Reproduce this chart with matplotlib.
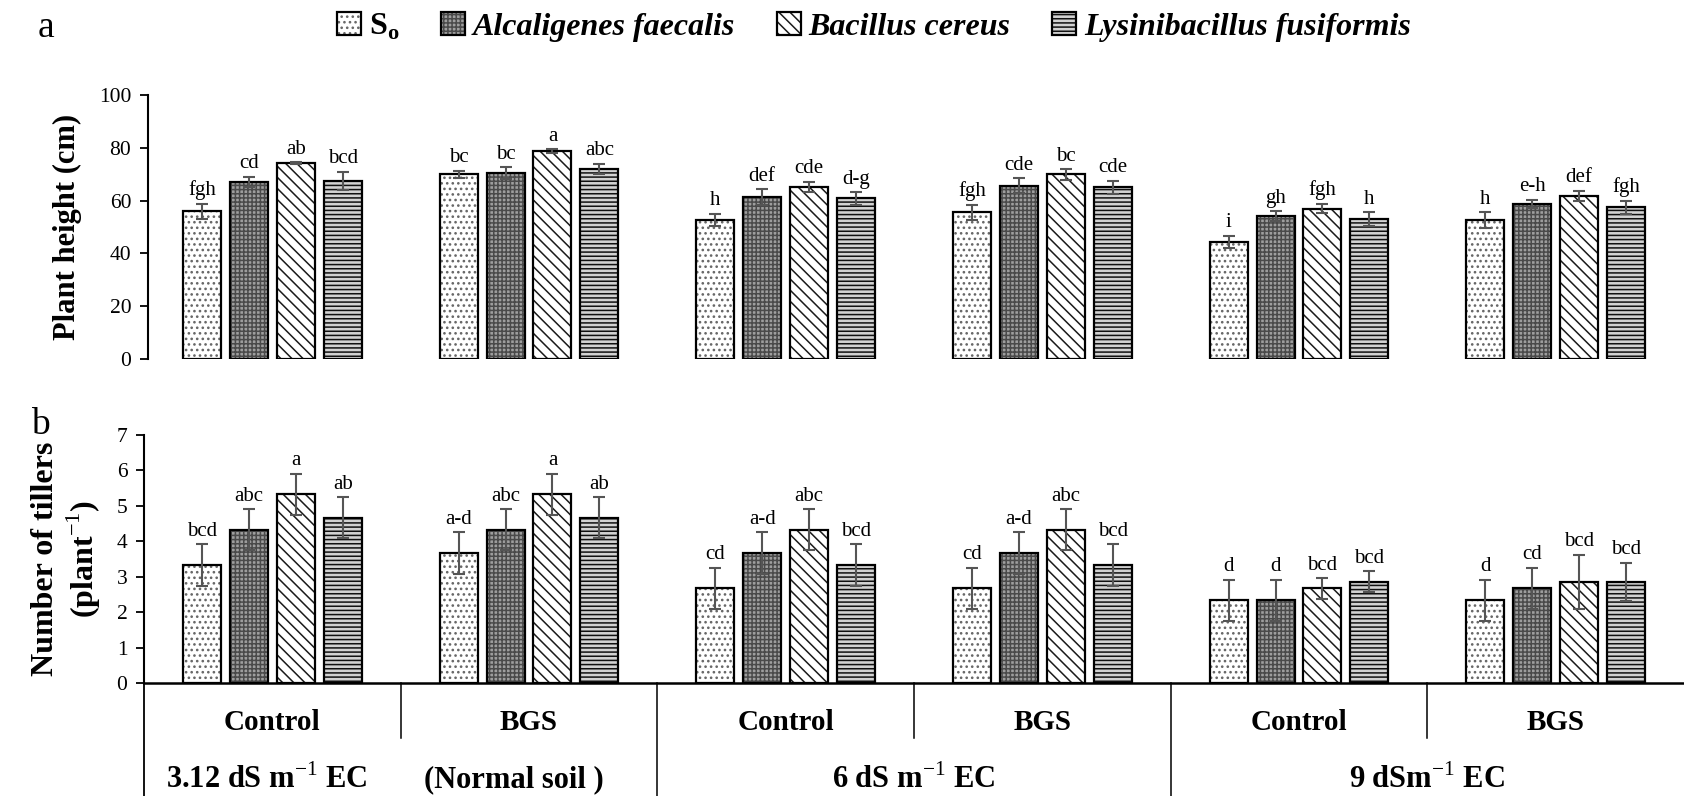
import numpy as np
import matplotlib
matplotlib.use("Agg")
import matplotlib.pyplot as plt
from matplotlib.patches import Patch
from matplotlib.transforms import blended_transform_factory

plt.rcParams['font.family'] = ['Liberation Serif', 'DejaVu Serif']
plt.rcParams['mathtext.fontset'] = 'custom'
plt.rcParams['mathtext.rm'] = 'Liberation Serif'
plt.rcParams['mathtext.bf'] = 'Liberation Serif:bold'
plt.rcParams['hatch.linewidth'] = 1.1

# ---------------- data ----------------
series = ['So', 'Alcaligenes faecalis', 'Bacillus cereus', 'Lysinibacillus fusiformis']
treatments = ['Control', 'BGS', 'Control', 'BGS', 'Control', 'BGS']
ec_levels = ['3.12 dS m$^{-1}$ EC', '6 dS m$^{-1}$ EC', '9 dSm$^{-1}$ EC']
ec_note = '(Normal soil )'

height_so = [55.9, 70.0, 52.6, 55.5, 44.3, 52.5]
height_af = [67.0, 70.4, 61.3, 65.6, 54.0, 58.8]
height_bc = [74.1, 78.8, 65.1, 69.9, 57.0, 61.8]
height_lf = [67.6, 71.9, 60.8, 65.1, 53.0, 57.5]
height_err_so = [3.0, 1.4, 2.4, 3.0, 2.4, 3.0]
height_err_af = [2.0, 2.2, 3.0, 2.9, 1.9, 1.5]
height_err_bc = [0.4, 0.6, 2.0, 2.0, 1.8, 1.9]
height_err_lf = [3.4, 2.0, 2.4, 2.5, 2.5, 2.5]
height_let_so = ['fgh', 'bc', 'h', 'fgh', 'i', 'h']
height_let_af = ['cd', 'bc', 'def', 'cde', 'gh', 'e-h']
height_let_bc = ['ab', 'a', 'cde', 'bc', 'fgh', 'def']
height_let_lf = ['bcd', 'abc', 'd-g', 'cde', 'h', 'fgh']

till_so = [3.33, 3.67, 2.67, 2.67, 2.33, 2.33]
till_af = [4.33, 4.33, 3.67, 3.67, 2.33, 2.67]
till_bc = [5.33, 5.33, 4.33, 4.33, 2.67, 2.86]
till_lf = [4.67, 4.67, 3.33, 3.33, 2.86, 2.86]
till_err_so = [0.58, 0.58, 0.58, 0.58, 0.58, 0.58]
till_err_af = [0.58, 0.58, 0.58, 0.58, 0.58, 0.58]
till_err_bc = [0.58, 0.58, 0.58, 0.58, 0.29, 0.76]
till_err_lf = [0.58, 0.58, 0.58, 0.58, 0.29, 0.54]
till_let_so = ['bcd', 'a-d', 'cd', 'cd', 'd', 'd']
till_let_af = ['abc', 'abc', 'a-d', 'a-d', 'd', 'cd']
till_let_bc = ['a', 'a', 'abc', 'abc', 'bcd', 'bcd']
till_let_lf = ['ab', 'ab', 'bcd', 'bcd', 'bcd', 'bcd']

height_vals = [height_so, height_af, height_bc, height_lf]
height_errs = [height_err_so, height_err_af, height_err_bc, height_err_lf]
height_lets = [height_let_so, height_let_af, height_let_bc, height_let_lf]
till_vals = [till_so, till_af, till_bc, till_lf]
till_errs = [till_err_so, till_err_af, till_err_bc, till_err_lf]
till_lets = [till_let_so, till_let_af, till_let_bc, till_let_lf]

# styles (fill colour, hatch, hatch colour)
faces = ['white', '#9e9e9e', 'white', '#d2d2d2']
hatches = ['...', '++++', '\\\\\\', '----']
hatch_cols = ['#666666', '#4a4a4a', '#1a1a1a', '#111111']

FIG_W, FIG_H = 1684, 796
fig = plt.figure(figsize=(FIG_W / 100, FIG_H / 100), dpi=100)


def frac_box(x_left, y_top, y_bottom):
    return [x_left / FIG_W, 1 - y_bottom / FIG_H, 1 - x_left / FIG_W,
            (y_bottom - y_top) / FIG_H]


axa = fig.add_axes(frac_box(148, 95, 359))
axb = fig.add_axes(frac_box(144, 435, 683))

x = np.arange(len(treatments))
w = 0.148
step = 0.183
offsets = (np.arange(4) - 1.5) * step
cell_px = (FIG_W - 144) / 6.0


def draw(ax, vals, errs, lets, ymax, left_px):
    for i in range(4):
        xs = x + offsets[i]
        ax.bar(xs, vals[i], width=w, color=faces[i], edgecolor=hatch_cols[i],
               hatch=hatches[i], linewidth=0, zorder=2)
        ax.bar(xs, vals[i], width=w, fill=False, edgecolor='black',
               linewidth=1.6, zorder=2.5)
        ax.errorbar(xs, vals[i], yerr=errs[i], fmt='none', ecolor='#555555',
                    elinewidth=1.5, capsize=4, capthick=1.5, zorder=3)
        for xx, v, e, t in zip(xs, vals[i], errs[i], lets[i]):
            ax.annotate(t, (xx, v + e), xytext=(0, 2.5), textcoords='offset points',
                        ha='center', va='bottom', fontsize=15)
    ax.set_xlim(-0.5 + (left_px - 144) / cell_px, 5.5)
    ax.set_ylim(0, ymax)
    ax.set_xticks([])
    for s in ['top', 'right']:
        ax.spines[s].set_visible(False)
    ax.tick_params(axis='y', direction='out', length=6, labelsize=15.5, width=1.3, pad=6)
    ax.spines['left'].set_linewidth(1.5)


draw(axa, height_vals, height_errs, height_lets, 100, 148)
axa.set_yticks(np.arange(0, 101, 20))
axa.spines['bottom'].set_visible(False)
axa.set_ylabel('Plant height (cm)', fontsize=22, fontweight='bold', labelpad=12)

draw(axb, till_vals, till_errs, till_lets, 7, 144)
axb.set_yticks(np.arange(0, 8, 1))
axb.spines['bottom'].set_linewidth(1.8)
axb.set_ylabel('Number of tillers\n(plant$^{-1}$)', fontsize=23, fontweight='bold',
               labelpad=10, linespacing=1.15)

# category table below panel b
tr = blended_transform_factory(axb.transData, fig.transFigure)
y_axis = 1 - 683 / FIG_H
for k in range(1, 6):
    xb = k - 0.5
    ybot = 0.0 if k % 2 == 0 else 1 - 738 / FIG_H
    axb.plot([xb, xb], [y_axis, ybot], color='black', lw=1.1, transform=tr, clip_on=False)
axb.plot([-0.5, -0.5], [y_axis, 0.0], color='black', lw=1.3, transform=tr, clip_on=False)
for k, t in enumerate(treatments):
    axb.text(k, 1 - 722 / FIG_H, t, transform=tr, ha='center', va='center', fontsize=21,
             fontweight='bold')
ec_pos = [-0.02, 2.5, 4.5]
for p, t in zip(ec_pos, ec_levels):
    axb.text(p, 1 - 780 / FIG_H, t, transform=tr, ha='center', va='center', fontsize=22,
             fontweight='bold')
axb.text(0.94, 1 - 780 / FIG_H, ec_note, transform=tr, ha='center', va='center',
         fontsize=22, fontweight='bold')

# panel letters
fig.text(46 / FIG_W, 1 - 28 / FIG_H, 'a', fontsize=27, ha='center', va='center')
fig.text(40 / FIG_W, 1 - 425 / FIG_H, 'b', fontsize=27, ha='center', va='center')

# legend
handles = [Patch(facecolor=faces[i], edgecolor=hatch_cols[i], hatch=hatches[i], linewidth=0)
           for i in range(4)]
frames = [Patch(fill=False, edgecolor='black', linewidth=1.6) for i in range(4)]
labels = ['S$_\\mathbf{o}$', 'Alcaligenes faecalis', 'Bacillus cereus', 'Lysinibacillus fusiformis']
leg = fig.legend([(h, f) for h, f in zip(handles, frames)], labels, loc='center',
                 bbox_to_anchor=(874 / FIG_W, 1 - 27 / FIG_H), ncol=4,
                 frameon=False, handlelength=0.75, handleheight=0.75, handletextpad=0.25,
                 columnspacing=1.3, prop={'size': 23, 'weight': 'bold', 'style': 'italic'})
leg.get_texts()[0].set_fontstyle('normal')

fig.savefig('out.png', dpi=100)
